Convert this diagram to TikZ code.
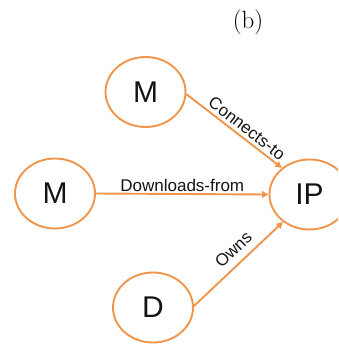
\documentclass[tikz,border=0pt]{standalone}
\usepackage{fontspec}
\setsansfont{Liberation Sans}
\usetikzlibrary{arrows.meta,shapes.geometric}
\definecolor{edgeorange}{RGB}{240,150,76}
\definecolor{labelgray}{RGB}{20,20,20}
\begin{document}
\begin{tikzpicture}[x=1pt,y=-1pt,
  entity/.style={draw=edgeorange, line width=1.9pt, ellipse, minimum width=80pt,
    minimum height=70pt, inner sep=0pt, text=labelgray,
    font=\sffamily\fontsize{30}{30}\selectfont},
  rel/.style={draw=edgeorange, line width=1.9pt,
    -{Triangle[length=6.5pt,width=6.5pt]}},
  rellabel/.style={text=labelgray, font=\sffamily\fontsize{17}{17}\selectfont,
    inner sep=1pt, sloped}]
\clip (0,0) rectangle (338,345);
\fill[white] (0,0) rectangle (338,345);

\node[font=\fontsize{25}{25}\selectfont] (cap) at (248,22) {(b)};

\node[entity] (mtop) at (145.5,92) {M};
\node[entity] (mmid) at (55,193.5) {M};
\node[entity] (ip) at (309.5,194.5) {IP};
\node[entity] (d) at (153,307.5) {D};

\draw[rel] (mtop.-3) -- node[rellabel, pos=0.57, above=2pt] {Connects-to} (ip.136);
\draw[rel] (mmid.east) -- node[rellabel, pos=0.5, above=0.5pt] {Downloads-from} (ip.west);
\draw[rel] (d.2) -- node[rellabel, pos=0.55, above=6pt] {Owns} (ip.-134);
\end{tikzpicture}
\end{document}
